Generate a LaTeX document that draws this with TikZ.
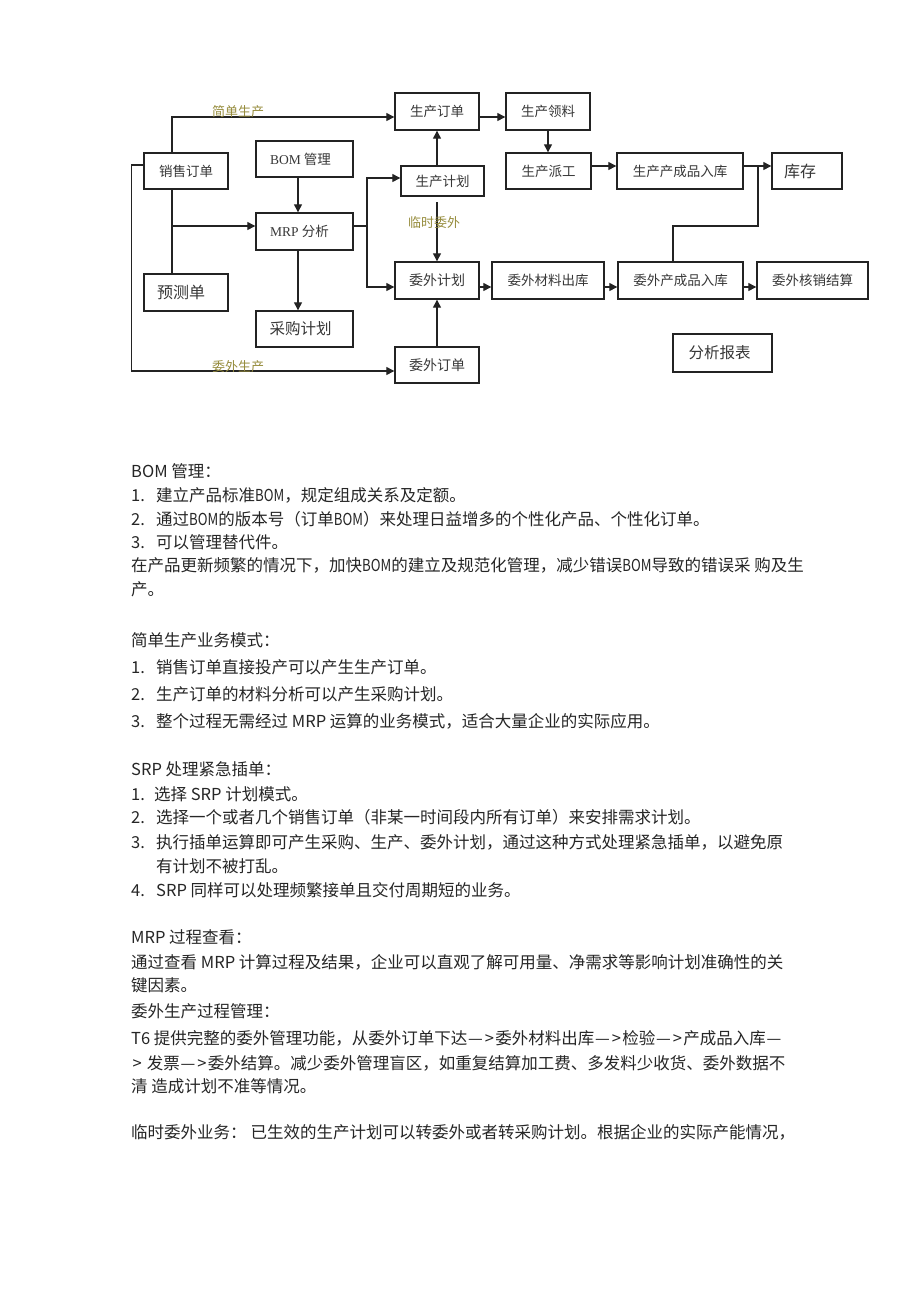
\documentclass[tikz,border=0pt]{standalone}
\usepackage{fontspec}
\setmainfont{Noto Sans CJK SC}
\newfontfamily\serifl{Liberation Serif}
\usetikzlibrary{arrows.meta}
\definecolor{olivetxt}{RGB}{150,140,60}
\definecolor{ink}{RGB}{35,35,35}
\definecolor{txt}{RGB}{55,55,55}
\newcommand{\FSz}[1]{\fontsize{#1}{#1}\selectfont}
\newcommand{\BOMc}{\scalebox{0.8}[1]{BOM}}
\newcommand{\ARw}{\makebox[16pt]{—}\makebox[12pt]{>}}
\begin{document}
\begin{tikzpicture}[x=1pt,y=-1pt,
  box/.style={draw=ink, line width=1.4pt, rectangle, inner sep=0pt, text=txt, font=\FSz{13.5}},
  cline/.style={draw=ink, line width=1.3pt},
  arr/.style={cline, -{Triangle[length=8pt,width=8pt]}},
  lab/.style={text=olivetxt, font=\FSz{13}, inner sep=0pt},
  para/.style={anchor=base west, inner sep=0pt, text=black!85, font=\FSz{16.5}}]

\useasboundingbox[fill=white] (0,0) rectangle (920,1302);

% ---------- boxes ----------
\node[box, minimum width=84pt, minimum height=37pt] (po) at (437,111.5) {生产订单};
\node[box, minimum width=84pt, minimum height=36pt] (so) at (186,171) {销售订单};
\node[box, minimum width=97pt, minimum height=36pt] (bom) at (304.5,159) {\hspace*{-8pt}{\serifl BOM} 管理};
\node[box, minimum width=83pt, minimum height=30pt] (pp) at (442.5,181) {\raisebox{-4pt}{生产计划}};
\node[box, minimum width=97pt, minimum height=37pt] (mrp) at (304.5,231.5) {\hspace*{-10pt}{\serifl MRP} 分析};
\node[box, minimum width=84pt, minimum height=37pt] (pick) at (548,111.5) {生产领料};
\node[box, minimum width=85pt, minimum height=36pt] (disp) at (548.5,171) {生产派工};
\node[box, minimum width=126pt, minimum height=36pt] (fin) at (680,171) {生产产成品入库};
\node[box, minimum width=70pt, minimum height=36pt, font=\FSz{16}] (stock) at (807,171) {库存\hspace*{14pt}};
\node[box, minimum width=84pt, minimum height=37pt, font=\FSz{16}] (fc) at (186,292.5) {预测单\hspace*{10pt}};
\node[box, minimum width=97pt, minimum height=36pt, font=\FSz{15.5}] (pur) at (304.5,329) {采购计划\hspace*{8pt}};
\node[box, minimum width=84pt, minimum height=37pt, font=\FSz{14}] (op) at (437,280.5) {委外计划};
\node[box, minimum width=84pt, minimum height=36pt, font=\FSz{14}] (oo) at (437,365) {委外订单};
\node[box, minimum width=112pt, minimum height=37pt] (om) at (548,280.5) {委外材料出库};
\node[box, minimum width=125pt, minimum height=37pt] (of) at (680.5,280.5) {委外产成品入库};
\node[box, minimum width=111pt, minimum height=37pt] (os) at (812.5,280.5) {委外核销结算};
\node[box, minimum width=99pt, minimum height=38pt, font=\FSz{15.5}] (rep) at (722.5,353) {分析报表\hspace*{6pt}};

% ---------- helper coordinates ----------
\coordinate (xs) at (172,0);
\coordinate (mj) at (367,226);
\coordinate (tw) at (437,202);
\coordinate (bj) at (758,226);
\coordinate (xa) at (673,0);

% ---------- connectors ----------
\draw[arr] (so.north -| xs) |- ([yshift=-5.5pt]po.west);
\node[lab] (l1) at (238,112) {简单生产};
\draw[arr] ([yshift=-5.5pt]po.east) -- ([yshift=-5.5pt]pick.west);
\draw[arr] (pick.south) -- (pick.south |- disp.north);
\draw[arr] ([yshift=5pt]disp.east) -- ([yshift=5pt]fin.west);
\draw[arr] ([yshift=5pt]fin.east) -- ([yshift=5pt]stock.west);
\coordinate (fs) at ([yshift=5pt]fin.east);
\draw[cline] (of.north -| xa) |- (bj) -- (bj |- fs);

\draw[arr] ([yshift=6pt]so.west) -- ++(-12,0) |- ([yshift=-6pt]oo.west);
\node[lab] (l2) at (238,367) {委外生产};

\draw[cline] (so.south -| xs) -- (fc.north -| xs);
\draw[arr] (xs |- mj) -- ([yshift=5.5pt]mrp.west);
\draw[arr] ([xshift=-6.5pt]bom.south) -- ([xshift=-6.5pt]mrp.north);
\draw[arr] ([xshift=-6.5pt]mrp.south) -- ([xshift=-6.5pt]pur.north);

\draw[cline] ([yshift=5.5pt]mrp.east) -- (mj);
\draw[arr] (mj) |- ([yshift=3pt]pp.west);
\draw[arr] (mj) |- ([yshift=-6.5pt]op.west);
\draw[arr] (pp.north -| po.south) -- (po.south);
\draw[arr] (tw) -- (op.north);
\node[lab] (l3) at (434,223) {临时委外};
\draw[arr] (oo.north) -- (op.south);

\draw[arr] ([yshift=-6.5pt]op.east) -- ([yshift=-6.5pt]om.west);
\draw[arr] ([yshift=-6.5pt]om.east) -- ([yshift=-6.5pt]of.west);
\draw[arr] ([yshift=-6.5pt]of.east) -- ([yshift=-6.5pt]os.west);

% ---------- text ----------
\node[para] (t01) at (131,477) {BOM 管理：};
\node[para] (t02n) at (131,501) {1.};
\node[para] (t02) at (156,501) {建立产品标准\BOMc，规定组成关系及定额。};
\node[para] (t03n) at (131,525) {2.};
\node[para] (t03) at (156,525) {通过\BOMc 的版本号（订单\BOMc）来处理日益增多的个性化产品、个性化订单。};
\node[para] (t04n) at (131,548) {3.};
\node[para] (t04) at (156,548) {可以管理替代件。};
\node[para] (t05) at (131,571) {在产品更新频繁的情况下，加快\BOMc 的建立及规范化管理，减少错误\BOMc 导致的错误采 购及生};
\node[para] (t06) at (131,595) {产。};

\node[para] (t07) at (131,646) {简单生产业务模式：};
\node[para] (t08n) at (131,673) {1.};
\node[para] (t08) at (156,673) {销售订单直接投产可以产生生产订单。};
\node[para] (t09n) at (131,700) {2.};
\node[para] (t09) at (156,700) {生产订单的材料分析可以产生采购计划。};
\node[para] (t10n) at (131,727) {3.};
\node[para] (t10) at (156,727) {整个过程无需经过 MRP 运算的业务模式，适合大量企业的实际应用。};

\node[para] (t11) at (131,775) {SRP 处理紧急插单：};
\node[para] (t12n) at (131,800) {1.};
\node[para] (t12) at (154,800) {选择 SRP 计划模式。};
\node[para] (t13n) at (131,823) {2.};
\node[para] (t13) at (156,823) {选择一个或者几个销售订单（非某一时间段内所有订单）来安排需求计划。};
\node[para] (t14n) at (131,848) {3.};
\node[para] (t14) at (156,848) {执行插单运算即可产生采购、生产、委外计划，通过这种方式处理紧急插单，以避免原};
\node[para] (t15) at (156,872) {有计划不被打乱。};
\node[para] (t16n) at (131,896) {4.};
\node[para] (t16) at (156,896) {SRP 同样可以处理频繁接单且交付周期短的业务。};

\node[para] (t17) at (131,943) {MRP 过程查看：};
\node[para] (t18) at (131,968) {通过查看 MRP 计算过程及结果，企业可以直观了解可用量、净需求等影响计划准确性的关};
\node[para] (t19) at (131,991) {键因素。};

\node[para] (t20) at (131,1017) {委外生产过程管理：};
\node[para] (t21) at (131,1044) {T6 提供完整的委外管理功能，从委外订单下达\ARw 委外材料出库\ARw 检验\ARw 产成品入库\makebox[16pt]{—}};
\node[para] (t22) at (131,1069) {\makebox[12pt]{>} 发票\ARw 委外结算。减少委外管理盲区，如重复结算加工费、多发料少收货、委外数据不};
\node[para] (t23) at (131,1092) {清 造成计划不准等情况。};

\node[para] (t24) at (131,1138) {临时委外业务：\hspace{4pt}已生效的生产计划可以转委外或者转采购计划。根据企业的实际产能情况，};
\end{tikzpicture}
\end{document}
